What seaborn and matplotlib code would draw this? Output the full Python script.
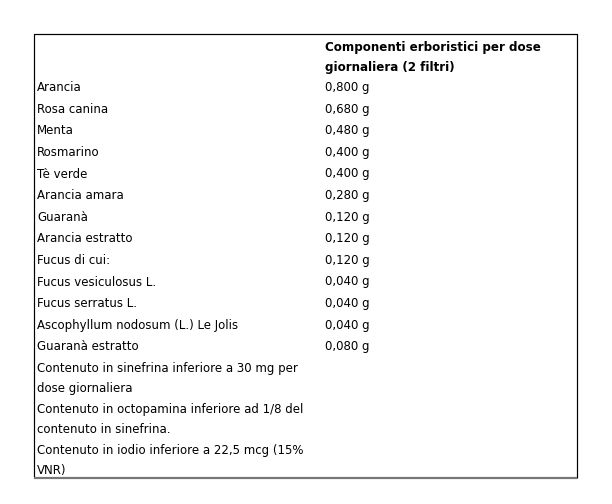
import matplotlib
matplotlib.use("Agg")
import matplotlib.pyplot as plt
import seaborn as sns

# ---- data ----
header = "Componenti erboristici per dose\ngiornaliera (2 filtri)"
labels = [
    "Arancia", "Rosa canina", "Menta", "Rosmarino", "Tè verde",
    "Arancia amara", "Guaranà", "Arancia estratto", "Fucus di cui:",
    "Fucus vesiculosus L.", "Fucus serratus L.",
    "Ascophyllum nodosum (L.) Le Jolis", "Guaranà estratto",
    "Contenuto in sinefrina inferiore a 30 mg per\ndose giornaliera",
    "Contenuto in octopamina inferiore ad 1/8 del\ncontenuto in sinefrina.",
    "Contenuto in iodio inferiore a 22,5 mcg (15%\nVNR)",
]
values = [
    "0,800 g", "0,680 g", "0,480 g", "0,400 g", "0,400 g",
    "0,280 g", "0,120 g", "0,120 g", "0,120 g",
    "0,040 g", "0,040 g", "0,040 g", "0,080 g",
    "", "", "",
]

sns.set_theme(style="white")
plt.rcParams["font.family"] = ["DejaVu Sans"]

W, H, DPI = 612, 504, 72
fig = plt.figure(figsize=(W / DPI, H / DPI), dpi=DPI)
ax = fig.add_axes([0, 0, 1, 1])
ax.set_xlim(0, W)
ax.set_ylim(H, 0)
ax.axis("off")

# layout (pixels)
box_l, box_t, box_r, box_b = 34, 34, 577, 478
col1_x, col2_x = 37, 325
intra = 19.6   # line pitch inside a cell
inter = 21.6   # pitch between cells
fs = 11.7
fs_head = 11.9

# box
ax.plot([box_l, box_l, box_r, box_r], [box_b, box_t, box_t, box_b],
        color="black", lw=1.2, solid_capstyle="butt")
ax.plot([box_l, box_r], [box_b, box_b], color="#777777", lw=2.2,
        solid_capstyle="butt")

# header
y = 48
for k, line in enumerate(header.split("\n")):
    ax.text(col2_x, y + k * intra, line, fontsize=fs_head, fontweight="bold",
            ha="left", va="center", color="black")
y = y + (len(header.split("\n")) - 1) * intra + 20

for lab, val in zip(labels, values):
    lines = lab.split("\n")
    for k, line in enumerate(lines):
        ax.text(col1_x, y + k * intra, line, fontsize=fs, ha="left",
                va="center", color="black")
    if val:
        ax.text(col2_x, y, val, fontsize=fs, ha="left", va="center",
                color="black")
    y = y + (len(lines) - 1) * intra + inter

fig.savefig("out.png", dpi=DPI, facecolor="white")
